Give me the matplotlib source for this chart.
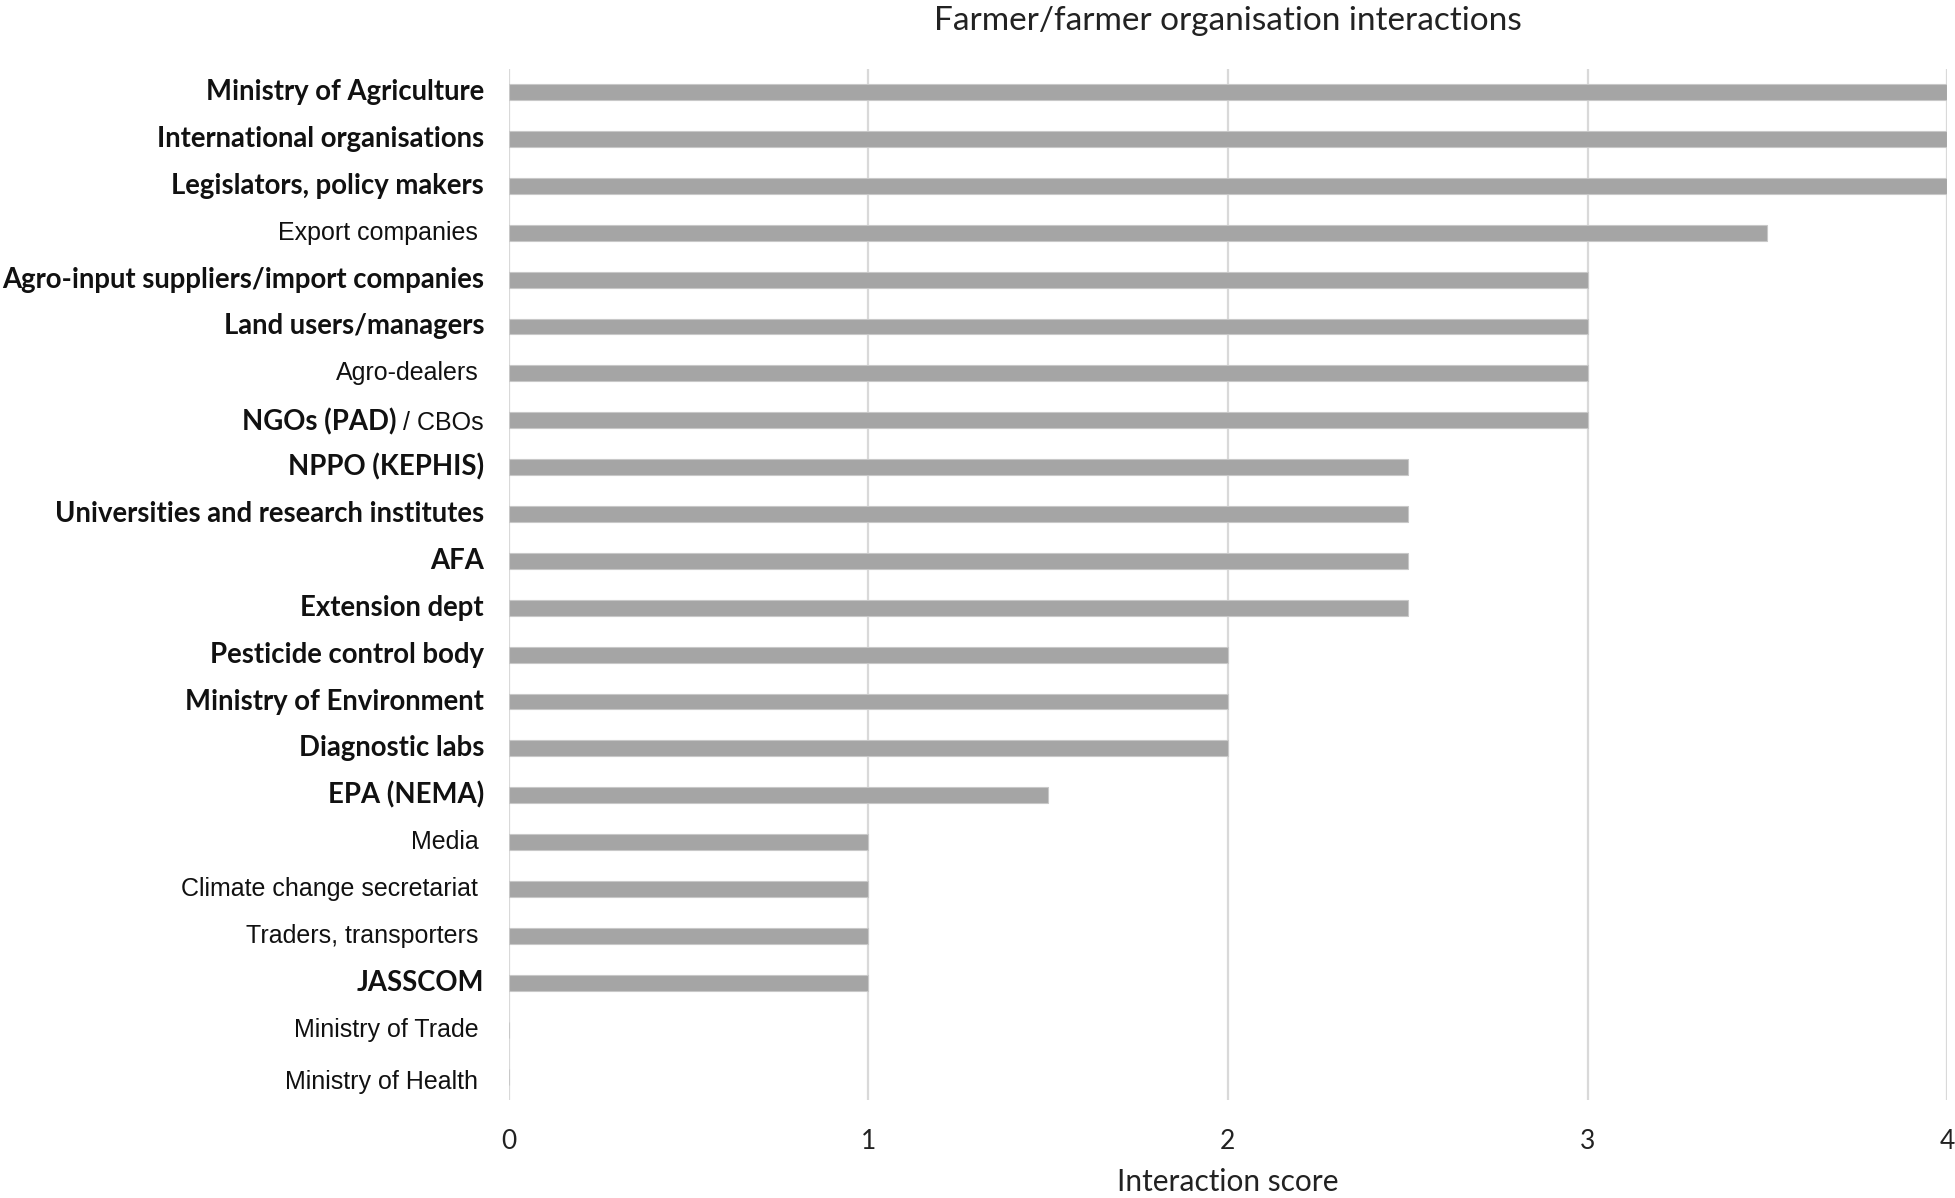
import matplotlib
matplotlib.use("Agg")
import matplotlib.pyplot as plt
from matplotlib import font_manager
import numpy as np

# Data (top to bottom)
actors = [
    "Ministry of Agriculture",
    "International organisations",
    "Legislators, policy makers",
    "Export companies",
    "Agro-input suppliers/import companies",
    "Land users/managers",
    "Agro-dealers",
    "NGOs (PAD)",
    "NPPO (KEPHIS)",
    "Universities and research institutes",
    "AFA",
    "Extension dept",
    "Pesticide control body",
    "Ministry of Environment",
    "Diagnostic labs",
    "EPA (NEMA)",
    "Media",
    "Climate change secretariat",
    "Traders, transporters",
    "JASSCOM",
    "Ministry of Trade",
    "Ministry of Health",
]
scores = [4, 4, 4, 3.5, 3, 3, 3, 3, 2.5, 2.5, 2.5, 2.5, 2, 2, 2, 1.5, 1, 1, 1, 1, 0, 0]
bold = [True, True, True, False, True, True, False, True, True, True, True,
        True, True, True, True, True, False, False, False, True, False, False]
label_suffix = {"NGOs (PAD)": " / CBOs"}
x_ticks = [0, 1, 2, 3, 4]

installed = {f.name for f in font_manager.fontManager.ttflist}
bold_font = "Lato"
reg_font = "Liberation Sans Narrow" if "Liberation Sans Narrow" in installed else "Liberation Sans"

fig, ax = plt.subplots(figsize=(19.56, 11.98), dpi=100)
fig.subplots_adjust(left=0.260, right=0.9955, top=0.9427, bottom=0.0818)

y = np.arange(len(actors))
ax.barh(y, scores, height=0.34, color="#a5a5a5", edgecolor="#c8c8c8",
        linewidth=0.8, zorder=3)

ax.set_ylim(len(actors) - 0.5, -0.5)
ax.set_xlim(0, 4)
ax.set_xticks(x_ticks)
ax.set_xticklabels([str(t) for t in x_ticks], fontfamily=bold_font,
                   fontsize=19, color="#222222")
ax.grid(axis="x", color="#d9d9d9", linewidth=1.6, zorder=0)
ax.tick_params(axis="both", length=0)
ax.tick_params(axis="x", pad=21)
for s in ax.spines.values():
    s.set_visible(False)

# y labels: mix of bold and regular text
ax.set_yticks(y)
ax.set_yticklabels([""] * len(actors))
trans = ax.get_yaxis_transform()
pad = -0.017
for i, (name, b) in enumerate(zip(actors, bold)):
    if name in label_suffix:
        t2 = ax.text(pad, i + 0.05, label_suffix[name], transform=trans,
                     ha="right", va="center", fontsize=18, family=reg_font,
                     color="#111111")
        ax.annotate(name, xy=(0, 0.55), xycoords=t2, ha="right", va="center",
                    fontsize=19.8, family=bold_font, fontweight="bold",
                    color="#111111")
    elif b:
        ax.text(pad, i, name, transform=trans, ha="right", va="center",
                fontsize=19.8, family=bold_font, fontweight="bold", color="#111111")
    else:
        # empty categories at the bottom sit a little lower in the original
        dy = 0.12 if i == len(actors) - 1 else 0
        ax.text(pad - 0.004, i + dy, name, transform=trans, ha="right",
                va="center", fontsize=18, family=reg_font, color="#111111")

ax.set_title("Farmer/farmer organisation interactions", fontsize=24,
             family=bold_font, color="#222222", pad=28)
ax.set_xlabel("Interaction score", fontsize=21.5, family=bold_font,
              color="#222222", labelpad=10)

plt.savefig("out.png", dpi=100)
